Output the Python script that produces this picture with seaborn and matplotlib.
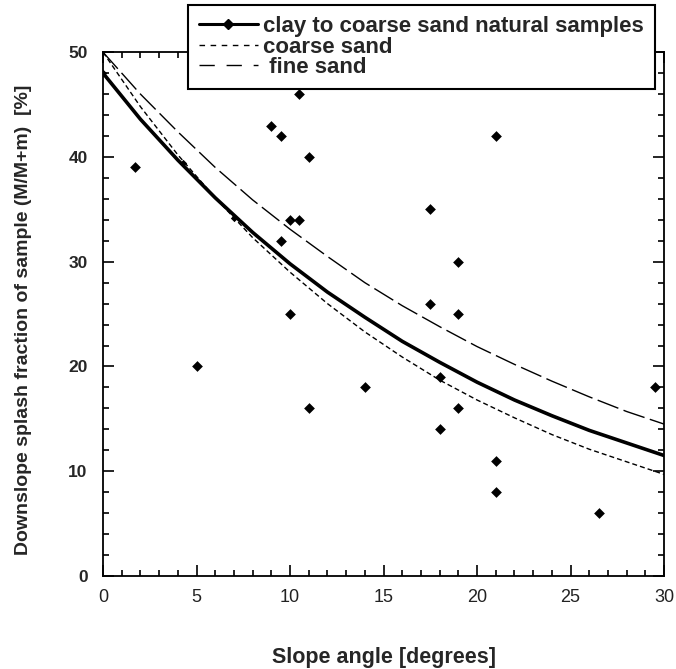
import matplotlib
matplotlib.use("Agg")
import matplotlib.pyplot as plt
from matplotlib.lines import Line2D
from matplotlib.ticker import MultipleLocator
import seaborn as sns
import pandas as pd

# --- Data ---
# measured samples
pts_x = [1.7, 5, 9, 9.5, 10.5, 11, 10, 10.5, 9.5, 10, 11, 14,
         17.5, 17.5, 19, 19, 18, 19, 18, 21, 21, 21, 26.5, 29.5]
pts_y = [39, 20, 43, 42, 46, 40, 34, 34, 32, 25, 16, 18,
         35, 26, 30, 25, 19, 16, 14, 42, 11, 8, 6, 18]

# fitted curves, sampled every 2 degrees
curve_x = [0, 2, 4, 6, 8, 10, 12, 14, 16, 18, 20, 22, 24, 26, 28, 30]
clay_y = [48.0, 43.6, 39.7, 36.1, 32.8, 29.8, 27.1, 24.7,
          22.4, 20.4, 18.5, 16.8, 15.3, 13.9, 12.7, 11.5]
coarse_y = [50.0, 44.8, 40.2, 36.1, 32.3, 29.0, 26.0, 23.3,
            20.9, 18.7, 16.8, 15.1, 13.5, 12.1, 10.9, 9.7]
fine_y = [50.0, 46.0, 42.4, 39.0, 35.9, 33.1, 30.5, 28.0,
          25.8, 23.8, 21.9, 20.2, 18.6, 17.1, 15.7, 14.5]

# small markers sitting on the clay curve
clay_mark_x = [0, 4.3, 7]
clay_mark_y = [48.0, 39.4, 34.2]

labels = ["clay to coarse sand natural samples", "coarse sand", " fine sand"]
x_ticks = [0, 5, 10, 15, 20, 25, 30]
y_ticks = [0, 10, 20, 30, 40, 50]

# --- Style ---
sns.set_style("ticks")
plt.rcParams['font.family'] = ['Liberation Sans', 'DejaVu Sans']

fig = plt.figure(figsize=(6.76, 6.69), dpi=100)
ax = fig.add_axes([0.1524, 0.139, 0.830, 0.783])

curves = pd.DataFrame({"x": curve_x, "clay": clay_y, "coarse": coarse_y, "fine": fine_y})

sns.lineplot(data=curves, x="x", y="fine", ax=ax, color="k", linewidth=1.0,
             linestyle=(0, (16, 4)))
sns.lineplot(data=curves, x="x", y="coarse", ax=ax, color="k", linewidth=1.0,
             linestyle=(0, (3.6, 2.2)))
sns.lineplot(data=curves, x="x", y="clay", ax=ax, color="k", linewidth=2.6)
sns.scatterplot(x=clay_mark_x, y=clay_mark_y, ax=ax, marker="D", s=14,
                color="k", linewidth=0, zorder=4)
sns.scatterplot(x=pts_x, y=pts_y, ax=ax, marker="D", s=30, color="k",
                linewidth=0, zorder=5)

ax.set_xlim(0, 30)
ax.set_ylim(0, 50)
ax.set_xticks(x_ticks)
ax.set_xticklabels([str(t) for t in x_ticks], fontsize=13, color="#222222")
ax.set_yticks(y_ticks)
ax.set_yticklabels([str(t) for t in y_ticks], fontsize=12.5, fontweight="bold")
ax.xaxis.set_minor_locator(MultipleLocator(1))
ax.yaxis.set_minor_locator(MultipleLocator(2))
ax.tick_params(which="both", direction="in", top=True, right=True, width=1.2,
               color="k")
ax.tick_params(which="major", length=8)
ax.tick_params(which="minor", length=4.5)
ax.tick_params(axis="x", pad=9)
ax.tick_params(axis="y", pad=11)
for sp in ax.spines.values():
    sp.set_linewidth(1.3)
    sp.set_color("k")

ax.set_xlabel("Slope angle [degrees]", fontsize=15.5, fontweight="bold")
ax.set_ylabel("Downslope splash fraction of sample (M/M+m)  [%]",
              fontsize=14, fontweight="bold")
ax.xaxis.set_label_coords(0.5, -0.1355)
ax.yaxis.set_label_coords(-0.1266, 0.49)

handles = [
    Line2D([], [], color="k", linewidth=2.2, marker="D", markersize=5),
    Line2D([], [], color="k", linewidth=1.0, linestyle=(0, (4, 4))),
    Line2D([], [], color="k", linewidth=1.0, linestyle=(0, (11, 8.5))),
]
leg = fig.legend(handles, labels, loc="upper left", bbox_to_anchor=(0.278, 0.9925),
                 borderaxespad=0, frameon=True, fancybox=False, framealpha=1,
                 edgecolor="k", borderpad=0.5, handlelength=2.65,
                 handletextpad=0.25, labelspacing=-0.02,
                 prop={"weight": "bold", "size": 16})
leg.get_frame().set_linewidth(1.5)

fig.savefig("out.png", dpi=100)
